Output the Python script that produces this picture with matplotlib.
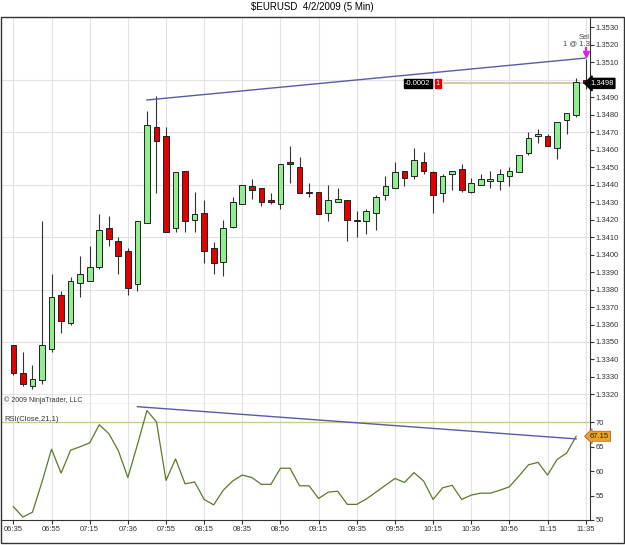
import matplotlib
matplotlib.use("Agg")
import matplotlib.pyplot as plt
from matplotlib.patches import Rectangle

plt.rcParams['font.family'] = ['Liberation Sans', 'DejaVu Sans']

# 5 min bars, 06:35 .. 11:35
opens = [1.3348, 1.3332, 1.3325, 1.3328, 1.3346, 1.3377, 1.3361, 1.3384, 1.3385, 1.3393,
         1.3415, 1.3408, 1.3402, 1.3383, 1.3418, 1.3473, 1.3468, 1.3415, 1.3448, 1.3420,
         1.3424, 1.3404, 1.3396, 1.3416, 1.3429, 1.3439, 1.3438, 1.3431, 1.3429, 1.3453,
         1.3450, 1.3436, 1.3436, 1.3424, 1.3430, 1.3431, 1.3419, 1.3419, 1.3424, 1.3434,
         1.3438, 1.3448, 1.3445, 1.3453, 1.3447, 1.3435, 1.3446, 1.3449, 1.3436, 1.3440,
         1.3442, 1.3442, 1.3445, 1.3447, 1.3458, 1.3468, 1.3468, 1.3461, 1.3477, 1.3480,
         1.3500]
highs = [1.3348, 1.3344, 1.3337, 1.3419, 1.3389, 1.3379, 1.3387, 1.3399, 1.3405, 1.3423,
         1.3422, 1.3410, 1.3404, 1.3419, 1.3482, 1.3491, 1.3473, 1.3447, 1.3448, 1.3436,
         1.3431, 1.3407, 1.3420, 1.3433, 1.3440, 1.3443, 1.3438, 1.3435, 1.3452, 1.3462,
         1.3456, 1.3441, 1.3436, 1.3440, 1.3438, 1.3431, 1.3425, 1.3426, 1.3434, 1.3445,
         1.3453, 1.3448, 1.3461, 1.3459, 1.3448, 1.3446, 1.3448, 1.3452, 1.3444, 1.3446,
         1.3448, 1.3449, 1.3450, 1.3457, 1.3470, 1.3472, 1.3469, 1.3476, 1.3481, 1.3501,
         1.3512]
lows = [1.3331, 1.3325, 1.3323, 1.3326, 1.3344, 1.3355, 1.3360, 1.3376, 1.3385, 1.3392,
        1.3405, 1.3389, 1.3377, 1.3379, 1.3418, 1.3435, 1.3413, 1.3413, 1.3413, 1.3413,
        1.3395, 1.3389, 1.3388, 1.3415, 1.3429, 1.3432, 1.3428, 1.3429, 1.3426, 1.3441,
        1.3435, 1.3433, 1.3423, 1.3419, 1.3430, 1.3408, 1.3410, 1.3412, 1.3414, 1.3431,
        1.3438, 1.3439, 1.3443, 1.3446, 1.3424, 1.3430, 1.3437, 1.3436, 1.3435, 1.3440,
        1.3438, 1.3437, 1.3439, 1.3447, 1.3457, 1.3464, 1.3462, 1.3455, 1.3469, 1.3479,
        1.3495]
closes = [1.3332, 1.3326, 1.3329, 1.3348, 1.3376, 1.3362, 1.3385, 1.3389, 1.3393, 1.3414,
          1.3409, 1.3399, 1.3381, 1.3419, 1.3474, 1.3465, 1.3413, 1.3447, 1.3419, 1.3423,
          1.3402, 1.3395, 1.3415, 1.3430, 1.3440, 1.3437, 1.3430, 1.3430, 1.3452, 1.3452,
          1.3435, 1.3435, 1.3423, 1.3431, 1.3432, 1.3420, 1.3420, 1.3425, 1.3433, 1.3439,
          1.3447, 1.3444, 1.3454, 1.3448, 1.3434, 1.3445, 1.3448, 1.3437, 1.3441, 1.3443,
          1.3443, 1.3446, 1.3448, 1.3457, 1.3467, 1.3469, 1.3462, 1.3476, 1.3481, 1.3499,
          1.3498]

# RSI(Close,21,1), last bar not plotted
rsi = [52.7, 50.6, 51.6, 57.8, 64.5, 59.6, 64.3, 65.0, 65.8, 69.5,
       67.7, 64.2, 58.7, 65.4, 72.4, 70.1, 58.1, 62.5, 57.4, 57.8,
       54.2, 53.1, 56.1, 58.0, 59.2, 58.7, 57.3, 57.3, 60.6, 60.6,
       57.0, 57.0, 54.4, 55.7, 55.9, 53.2, 53.2, 54.3, 55.7, 57.1,
       58.5, 57.7, 59.7, 58.0, 54.2, 56.6, 57.1, 54.2, 55.1, 55.5,
       55.5, 56.1, 56.8, 59.0, 61.3, 61.8, 59.2, 62.4, 63.7, 67.15]

time_labels = ["06:35", "06:55", "07:15", "07:36", "07:55", "08:15", "08:35", "08:56",
               "09:15", "09:35", "09:55", "10:15", "10:36", "10:56", "11:15", "11:35"]

price_ticks = [1.3320 + 0.0010 * k for k in range(22)]
rsi_ticks = [50, 55, 60, 65, 70]

# trend lines / trade info
price_trend = ([14, 60], [1.34885, 1.35125])
rsi_trend = ([13, 59], [73.2, 66.6])
last_price = 1.3498
rsi_last = "67.15"

x = list(range(len(opens)))
fs = 5.5

fig = plt.figure(figsize=(6.25, 5.45), dpi=100)
ax1 = fig.add_axes([1 / 625, 1 - 404 / 545, 589 / 625, 387 / 545])
ax2 = fig.add_axes([1 / 625, 1 - 520 / 545, 589 / 625, 116 / 545], sharex=ax1)

fig.text(0.5, 1 - 7 / 545, "$EURUSD  4/2/2009 (5 Min)", ha='center', va='center', fontsize=7)
fig.patches.append(Rectangle((0.5 / 625, 2 / 545), 623.5 / 625, 526 / 545, transform=fig.transFigure,
                             fill=False, edgecolor='#333333', linewidth=1))

# candles
for i in x:
    up = closes[i] >= opens[i]
    col = '#90ee90' if up else '#e00000'
    ax1.vlines(i, lows[i], highs[i], color='#333333', linewidth=0.8, zorder=2)
    bottom = min(opens[i], closes[i])
    h = max(abs(closes[i] - opens[i]), 0.00004)
    ax1.bar(i, h, bottom=bottom, width=0.6, color=col, edgecolor='#222222', linewidth=0.7, zorder=3)

ax1.plot(price_trend[0], price_trend[1], color='#5a5aa8', linewidth=1, zorder=4)
ax1.hlines(last_price, 45, 60, color='#d9c9a5', linewidth=1.5, zorder=1)
ax1.text(42.4, last_price, "-0.0002", fontsize=fs, color='white', ha='center', va='center',
         bbox=dict(boxstyle='square,pad=0.15', fc='black', ec='black'))
ax1.text(44.5, last_price, "1", fontsize=fs, color='white', ha='center', va='center',
         bbox=dict(boxstyle='square,pad=0.15', fc='#e00000', ec='#e00000'))
ax1.text(60.4, 1.35245, "Sel", fontsize=fs, color='#444444', ha='right', va='center')
ax1.text(60.4, 1.35205, "1 @ 1.3", fontsize=fs, color='#444444', ha='right', va='center')
# sell marker: short magenta down arrow
ax1.vlines(60, 1.35155, 1.35190, color='#e020e0', linewidth=1.6, zorder=5)
ax1.plot([60], [1.35150], marker='v', markersize=4.5, color='#e020e0', zorder=5)
ax1.text(1.0, last_price, "1.3498", transform=ax1.get_yaxis_transform(), fontsize=fs,
         color='white', ha='left', va='center', zorder=5,
         bbox=dict(boxstyle='larrow,pad=0.2', fc='black', ec='black'))
ax1.text(-1.0, 1.33165, "© 2009 NinjaTrader, LLC", fontsize=5, color='#333333', va='center')

ax1.set_xlim(-1.3, 60.45)
ax1.set_ylim(1.33145, 1.35360)
ax1.set_yticks(price_ticks)
# the 1.3500 label sits under the last-price box
ax1.set_yticklabels(["" if abs(p - 1.3500) < 1e-6 else "%.4f" % p for p in price_ticks])
ax1.yaxis.tick_right()
ax1.tick_params(axis='y', labelsize=fs, length=3, pad=1, colors='#333333')
ax1.tick_params(axis='x', bottom=False, labelbottom=False)
ax1.set_xticks(range(0, 61, 4))
for p in [1.3320, 1.3350, 1.3380, 1.3410, 1.3440, 1.3470, 1.3500]:
    ax1.axhline(p, color='#e2e2e2', linewidth=0.8, zorder=0)
ax1.grid(axis='x', color='#e2e2e2', linewidth=0.8)
ax1.set_axisbelow(True)
for s in ['left', 'top']:
    ax1.spines[s].set_visible(False)
ax1.spines['right'].set_color('#333333')
ax1.spines['bottom'].set_color('#444444')

# RSI panel
ax2.plot(range(len(rsi)), rsi, color='#5b7a2b', linewidth=0.9, zorder=3)
ax2.axhline(70, color='#c3cf8c', linewidth=1, zorder=2)
ax2.plot(rsi_trend[0], rsi_trend[1], color='#5a5aa8', linewidth=1, zorder=4)
ax2.text(0.006, 0.87, "RSI(Close,21,1)", transform=ax2.transAxes, fontsize=fs, color='#333333', va='center')
ax2.text(1.0, rsi[-1], rsi_last, transform=ax2.get_yaxis_transform(), fontsize=fs,
         color='#222222', ha='left', va='center',
         bbox=dict(boxstyle='larrow,pad=0.2', fc='#f0a030', ec='#a06010', lw=0.5))
ax2.set_ylim(50, 73.75)
ax2.set_yticks(rsi_ticks)
ax2.yaxis.tick_right()
ax2.tick_params(axis='y', labelsize=fs, length=3, pad=1, colors='#333333')
ax2.set_xticks(range(0, 61, 4))
ax2.set_xticklabels(time_labels)
ax2.tick_params(axis='x', labelsize=fs, length=3, pad=1, colors='#333333')
ax2.grid(axis='x', color='#e2e2e2', linewidth=0.8)
ax2.set_axisbelow(True)
for s in ['left', 'top']:
    ax2.spines[s].set_visible(False)
ax2.spines['right'].set_color('#333333')
ax2.spines['bottom'].set_color('#333333')

fig.savefig("out.png", dpi=100)
